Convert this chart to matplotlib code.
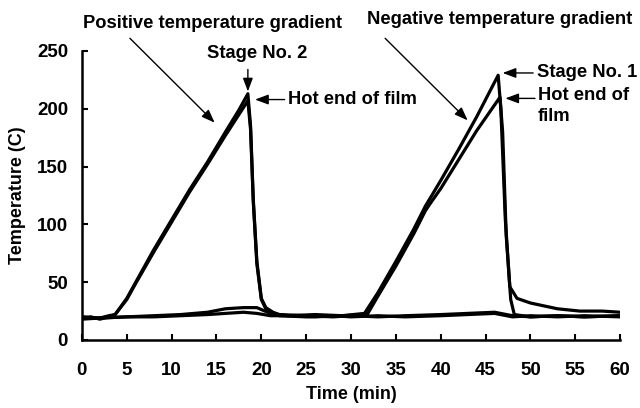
import matplotlib
matplotlib.use("Agg")
import matplotlib.pyplot as plt

# hand-read points (time in min, temperature in C)
pos_t = [0, 1, 2, 3, 3.7, 5, 6, 8, 10, 12, 14, 16, 17.5, 18.5, 18.8, 19.1,
         19.5, 20, 20.5, 21.3, 22, 25, 28, 30, 33, 36, 40, 43, 46, 48, 50,
         53, 56, 60]
pos_stage = [19, 20, 18, 20, 22, 36, 50, 78, 104, 130, 154, 180, 199, 213,
             185, 122, 68, 36, 28, 24, 22, 21, 20, 21, 20, 21, 22, 23, 24,
             21, 20, 21, 20, 21]
pos_hot = [20, 19, 19, 21, 22, 35, 49, 76, 102, 128, 152, 177, 195, 207,
           182, 120, 66, 35, 27, 23, 21, 20, 21, 20, 21, 20, 21, 22, 23,
           20, 21, 20, 21, 20]

neg_t = [0, 2, 5, 8, 11, 14, 16, 18, 19.5, 21, 23, 26, 29, 31.5, 33, 35,
         37, 38.3, 39, 40, 42, 44, 46.4, 46.7, 47.2, 47.7, 48.5, 50, 51.8,
         53, 55.5, 58, 60]
neg_stage = [18, 19, 20, 21, 22, 24, 27, 28, 28, 23, 21, 22, 21, 23, 41, 68,
             96, 116, 125, 138, 165, 193, 229, 200, 104, 46, 36, 32, 29, 27,
             25, 25, 24]
neg_hot_t = [0, 2, 5, 8, 11, 14, 16, 18, 19.5, 21, 23, 26, 29, 31.8, 33, 35,
             37, 38.3, 39, 40, 42, 44, 46.6, 46.9, 47.3, 47.8, 48.2, 50, 53,
             56, 60]
neg_hot = [20, 19, 20, 20, 21, 22, 23, 24, 23, 21, 21, 20, 21, 22, 38, 64,
           92, 112, 120, 131, 156, 181, 210, 180, 90, 35, 22, 20, 21, 20, 21]

plt.rcParams["font.family"] = ["Liberation Sans", "DejaVu Sans"]
plt.rcParams["font.weight"] = "bold"

fig = plt.figure(figsize=(6.4, 4.08), dpi=100)
ax = fig.add_axes([0.128, 0.1667, 0.841, 0.7083])

for t, y in [(pos_t, pos_stage), (pos_t, pos_hot), (neg_t, neg_stage),
             (neg_hot_t, neg_hot)]:
    ax.plot(t, y, color="black", lw=2.3, solid_joinstyle="round")

ax.set_xlim(0, 60)
ax.set_ylim(0, 250)
ax.set_xticks(range(0, 61, 5))
ax.set_yticks(range(0, 251, 50))
ax.spines["top"].set_visible(False)
ax.spines["right"].set_visible(False)
for s in ["left", "bottom"]:
    ax.spines[s].set_linewidth(1.8)
ax.tick_params(axis="both", direction="in", length=4, width=1.5,
               labelsize=13.5)
ax.tick_params(axis="x", pad=16)
ax.tick_params(axis="y", pad=10)
ax.set_xlabel("Time (min)", fontsize=13, fontweight="bold", labelpad=5)
ax.set_ylabel("Temperature (C)", fontsize=13, fontweight="bold", labelpad=8)

arrow = dict(arrowstyle="-|>,head_length=0.8,head_width=0.3",
             color="black", lw=1, shrinkA=0, shrinkB=0)
fs = 13.2

ax.text(14.6, 274, "Positive temperature gradient", fontsize=fs,
        fontweight="bold", ha="center", va="center")
ax.annotate("", xy=(14.8, 188), xytext=(5.35, 261), arrowprops=arrow,
            annotation_clip=False)
ax.text(19.5, 248, "Stage No. 2", fontsize=fs, fontweight="bold",
        ha="center", va="center")
ax.annotate("", xy=(18.5, 215), xytext=(18.5, 234), arrowprops=arrow,
            annotation_clip=False)
ax.annotate("", xy=(19.3, 208), xytext=(22.6, 208), arrowprops=arrow)
ax.text(23.0, 208, "Hot end of film", fontsize=fs, fontweight="bold",
        ha="left", va="center")

ax.text(46.6, 277, "Negative temperature gradient", fontsize=fs,
        fontweight="bold", ha="center", va="center")
ax.annotate("", xy=(43.0, 190), xytext=(33.8, 261), arrowprops=arrow,
            annotation_clip=False)
ax.annotate("", xy=(46.9, 231), xytext=(50.3, 231), arrowprops=arrow)
ax.text(50.7, 231, "Stage No. 1", fontsize=fs, fontweight="bold",
        ha="left", va="center")
ax.annotate("", xy=(47.2, 209), xytext=(50.5, 209), arrowprops=arrow)
ax.text(50.8, 219, "Hot end of\nfilm", fontsize=fs, fontweight="bold",
        ha="left", va="top", linespacing=1.3)

fig.savefig("out.png", dpi=100)
